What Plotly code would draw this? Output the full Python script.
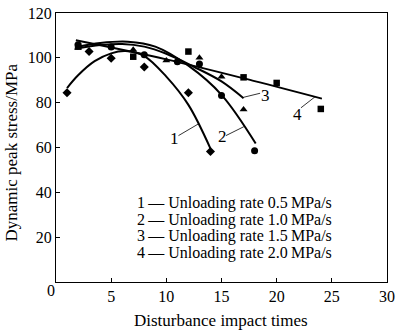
import plotly.graph_objects as go

s1_x = [1, 3, 5, 8, 12, 14]
s1_y = [84.4, 102.8, 99.8, 95.9, 84.4, 58.2]
s2_x = [2, 5, 8, 11, 13, 15, 18]
s2_y = [105.8, 104.8, 101.4, 98.3, 97.3, 83.2, 58.6]
s3_x = [2, 7, 10, 13, 15, 17]
s3_y = [104.5, 103.6, 98.8, 100.0, 91.6, 76.9]
s4_x = [2, 7, 12, 17, 20, 24]
s4_y = [105.0, 100.5, 102.8, 91.3, 88.8, 77.2]

# ---- fitted trend curves ----
fit1_x = [1.0, 2, 3.5, 5, 6.3, 8, 10, 12, 14]
fit1_y = [86.5, 92.2, 98.5, 102.0, 103.0, 100.8, 91.6, 79.0, 59.5]
fit2_x = [1.9, 4, 6.5, 9, 12, 15, 18.1]
fit2_y = [104.8, 106.6, 107.2, 105.0, 96.5, 83.5, 61.8]
fit3_x = [1.9, 4, 6, 8, 10, 12.5, 15, 17]
fit3_y = [104.2, 105.7, 106.2, 105.0, 101.8, 96.0, 89.5, 82.0]
fit4_x = [1.8, 10, 18, 24.1]
fit4_y = [107.8, 99.3, 89.6, 81.8]

series_names = ["Unloading rate 0.5\u2009MPa/s", "Unloading rate 1.0\u2009MPa/s",
                "Unloading rate 1.5\u2009MPa/s", "Unloading rate 2.0\u2009MPa/s"]
x_ticks = [5, 10, 15, 20, 25, 30]
y_ticks = [20, 40, 60, 80, 100, 120]

FONT = "Liberation Serif, Times New Roman, serif"

fig = go.Figure()
for fx, fy in [(fit1_x, fit1_y), (fit2_x, fit2_y), (fit3_x, fit3_y), (fit4_x, fit4_y)]:
    fig.add_trace(go.Scatter(x=fx, y=fy, mode="lines", line=dict(color="black", width=2, shape="spline", smoothing=1.0),
                             showlegend=False, hoverinfo="skip"))

for sx, sy, sym, sz in [(s1_x, s1_y, "diamond", 7), (s2_x, s2_y, "circle", 7),
                        (s3_x, s3_y, "triangle-up", 7), (s4_x, s4_y, "square", 6.5)]:
    fig.add_trace(go.Scatter(x=sx, y=sy, mode="markers", marker=dict(symbol=sym, size=sz, color="black"),
                             showlegend=False))

annotations = []
# legend rows
leg_y = [0.2924, 0.2300, 0.1697, 0.1094]
for i, (nm, yy) in enumerate(zip(series_names, leg_y)):
    annotations.append(dict(xref="paper", yref="paper", x=0.2395, y=yy, xanchor="left", yanchor="middle",
                            text=f"{i+1}\u2009\u2014 {nm}", showarrow=False,
                            font=dict(family=FONT, size=16, color="black")))
# curve labels with leader lines
labels = [("1", 10.75, 64.2, 11.1, 65.3, 12.97, 70.7),
          ("2", 15.05, 64.8, 15.4, 65.3, 17.03, 69.3),
          ("3", 18.95, 83.4, 17.0, 82.4, 18.5, 84.2),
          ("4", 21.9, 74.8, 22.2, 77.7, 23.5, 82.7)]
shapes = []
for t, lx, ly, x0, y0, x1, y1 in labels:
    annotations.append(dict(x=lx, y=ly, text=t, showarrow=False, xanchor="center", yanchor="middle",
                            font=dict(family=FONT, size=17, color="black")))
    shapes.append(dict(type="line", x0=x0, y0=y0, x1=x1, y1=y1, line=dict(color="black", width=0.8)))

# corner zero
annotations.append(dict(xref="paper", yref="paper", x=-0.0157, y=-0.0325, text="0", showarrow=False,
                        xanchor="center", yanchor="middle", font=dict(family=FONT, size=16, color="black")))
# axis titles
annotations.append(dict(xref="paper", yref="paper", x=0.4985, y=-0.1444, text="Disturbance impact times",
                        showarrow=False, xanchor="center", yanchor="middle",
                        font=dict(family=FONT, size=17, color="black")))
annotations.append(dict(xref="paper", yref="paper", x=-0.134, y=0.48, text="Dynamic peak stress/MPa",
                        showarrow=False, textangle=-90, xanchor="center", yanchor="middle",
                        font=dict(family=FONT, size=17, color="black")))

fig.update_layout(
    width=400, height=331,
    margin=dict(l=56, r=7, t=5, b=49),
    paper_bgcolor="white", plot_bgcolor="white",
    annotations=annotations, shapes=shapes,
    font=dict(family=FONT, size=16, color="black"),
    showlegend=False,
)
fig.update_xaxes(range=[0, 30], tickvals=x_ticks, ticks="inside", ticklen=4, tickcolor="black",
                 showline=True, linecolor="black", linewidth=1.2, mirror=True, showgrid=False, zeroline=False,
                 ticklabeloverflow="allow",
                 tickfont=dict(family=FONT, size=16, color="black"))
fig.update_yaxes(range=[0, 120], tickvals=y_ticks, ticks="inside", ticklen=4, tickcolor="black",
                 showline=True, linecolor="black", linewidth=1.2, mirror=True, showgrid=False, zeroline=False,
                 ticklabeloverflow="allow",
                 tickfont=dict(family=FONT, size=16, color="black"))

fig.write_html("out.html")
